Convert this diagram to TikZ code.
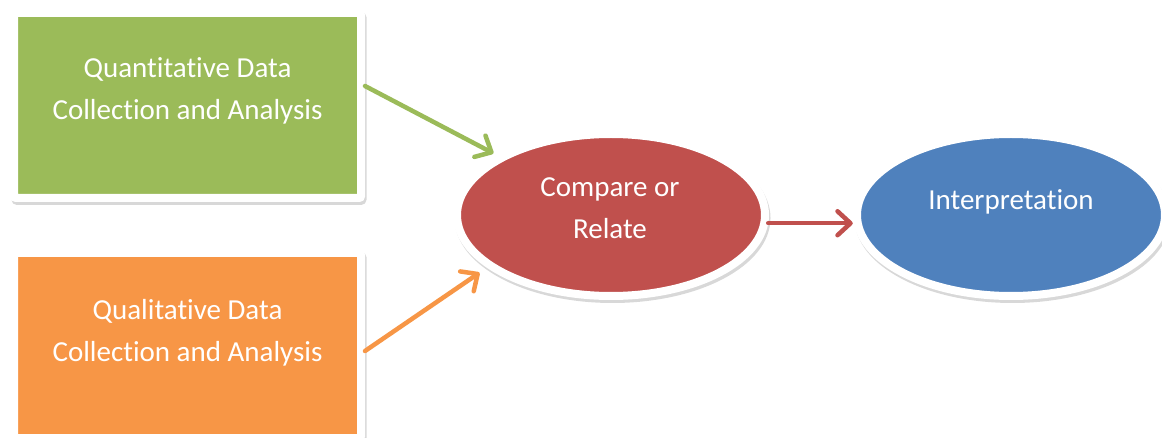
\documentclass[tikz,border=0pt]{standalone}
\usepackage{fontspec}
\setmainfont{Carlito}[Ligatures=NoCommon]
\usetikzlibrary{arrows.meta,shadows,shapes.geometric}
\definecolor{cgreen}{HTML}{9BBB59}
\definecolor{corange}{HTML}{F79646}
\definecolor{cred}{HTML}{C0504D}
\definecolor{cblue}{HTML}{4F81BD}
\begin{document}
\begin{tikzpicture}[x=1pt,y=-1pt,
  dshadow/.style={drop shadow={opacity=0.22, fill=black!70, draw=black!70, line width=8pt, shadow xshift=1.5pt, shadow yshift=-3pt}},
  box/.style={rectangle, draw=white, line width=8pt, rounded corners=2pt, minimum width=347pt, minimum height=185pt, inner sep=0pt, dshadow},
  oval/.style={ellipse, draw=white, line width=8pt, minimum width=308pt, minimum height=162pt, inner sep=0pt, dshadow},
  lbl/.style={text=white, font=\fontsize{29}{42}\selectfont, align=center, inner sep=0pt},
  arr/.style={line width=4.5pt, line cap=round, line join=round, -{Straight Barb[round,length=13pt,width=24pt]}}]
\useasboundingbox (0,0) rectangle (1162,438);
\node[box, fill=cgreen] (q) at (187.5,105.5) {};
\node[box, fill=corange] (o) at (187.5,345.5) {};
\node[oval, fill=cred] (c) at (611,215) {};
\node[oval, fill=cblue] (i) at (1011,215) {};
\node[lbl, anchor=base] (qt) at (187.5,120) {Quantitative Data\\Collection and Analysis};
\node[lbl, anchor=base] (ot) at (187.5,361) {Qualitative Data\\Collection and Analysis};
\node[lbl, anchor=base] (ct) at (610,239) {Compare or\\Relate};
\node[lbl, anchor=base] (it) at (1011,210) {Interpretation};
\draw[arr, cgreen, shorten >=5pt] ([yshift=19.5pt]q.east) -- (c);
\draw[arr, corange, shorten >=9pt] ([yshift=-5.5pt]o.east) -- (c.203);
\draw[arr, cred, shorten >=1pt] (c.-3) -- (i.183);
\end{tikzpicture}
\end{document}
